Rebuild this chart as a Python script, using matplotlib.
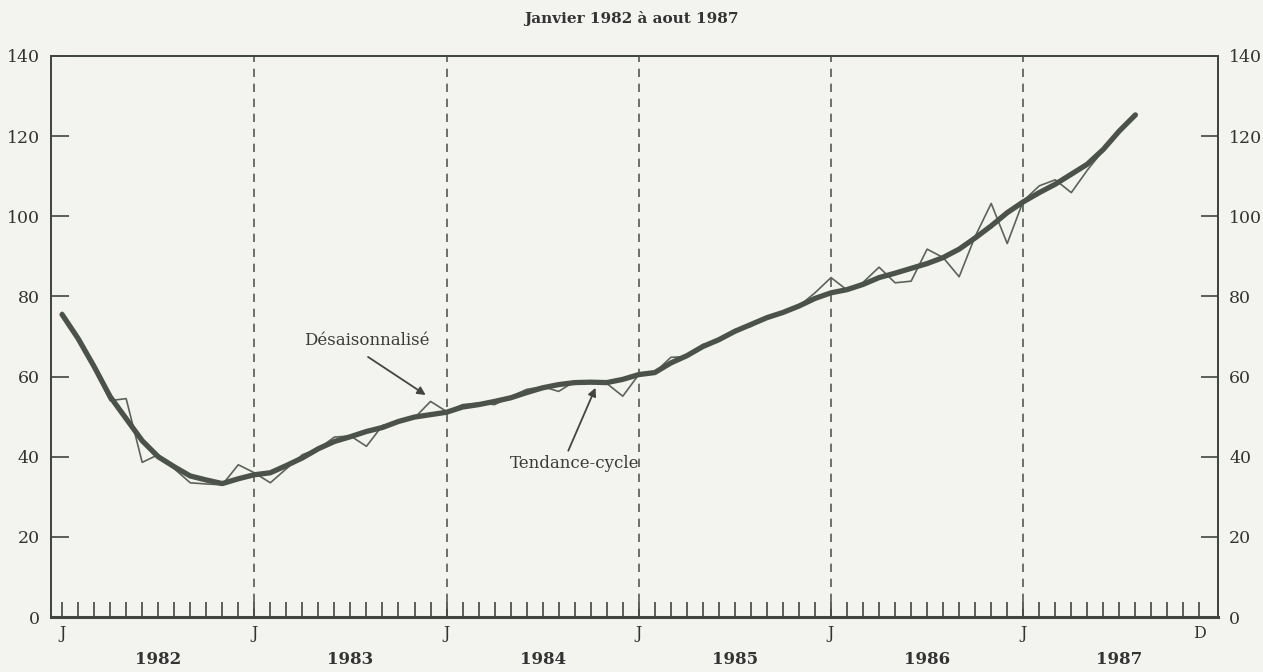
import matplotlib.pyplot as plt
import numpy as np
from matplotlib.transforms import blended_transform_factory

# months since January 1982 (0 = Jan 1982, 67 = Aug 1987)
tendance = [75.5, 69.5, 62.5, 55.0, 49.5, 44.0, 40.0, 37.5, 35.2, 34.2, 33.3, 34.5,
            35.5, 36.0, 37.8, 39.7, 42.0, 43.8, 45.0, 46.3, 47.3, 48.8, 49.9, 50.5,
            51.1, 52.4, 53.0, 53.8, 54.7, 56.0, 57.2, 58.0, 58.5, 58.6, 58.5, 59.3,
            60.5, 61.0, 63.4, 65.2, 67.5, 69.2, 71.3, 73.0, 74.7, 76.0, 77.6, 79.5,
            80.9, 81.7, 83.0, 84.7, 85.8, 87.0, 88.2, 89.7, 91.8, 94.6, 97.6, 100.9,
            103.6, 105.9, 108.0, 110.5, 113.0, 116.7, 121.3, 125.3]
desaison = [76.0, 69.0, 62.0, 54.0, 54.5, 38.6, 40.5, 37.0, 33.5, 33.2, 33.0, 38.0,
            36.0, 33.5, 37.0, 40.5, 42.0, 44.9, 45.2, 42.6, 47.8, 48.8, 49.7, 53.8,
            51.3, 53.0, 53.4, 53.0, 55.0, 56.8, 57.5, 56.3, 58.8, 58.8, 58.3, 55.1,
            60.5, 61.0, 64.8, 65.0, 68.0, 69.0, 71.7, 72.5, 75.0, 76.0, 77.6, 80.9,
            84.7, 81.6, 83.5, 87.3, 83.4, 83.8, 91.8, 89.7, 84.9, 95.0, 103.2, 93.2,
            103.8, 107.6, 109.1, 105.9, 111.5, 116.5, 121.3, 125.3]
years = ["1982", "1983", "1984", "1985", "1986", "1987"]
month_labels = ["J", "J", "J", "J", "J", "J", "D"]
yticks = [0, 20, 40, 60, 80, 100, 120, 140]

months = np.arange(len(tendance))
jan_pos = [12 * i for i in range(len(years))]
label_pos = jan_pos + [12 * len(years) - 1]

ink = "#3f463f"
bg = "#f3f3ef"
plt.rcParams["font.family"] = ["DejaVu Serif"]

fig = plt.figure(figsize=(12.63, 6.72), dpi=100, facecolor=bg)
ax = fig.add_axes([0.0404, 0.0818, 0.924, 0.8349], facecolor=bg)

for j in jan_pos[1:]:
    ax.axvline(j, color="#555a55", lw=1.2, ls=(0, (5, 4)), zorder=1)

ax.plot(months, desaison, color="#5b645a", lw=1.2, zorder=2)
ax.plot(months, tendance, color="#4a5249", lw=3.8, solid_capstyle="round",
        solid_joinstyle="round", zorder=3)

ax.set_xlim(-0.69, 72.16)
ax.set_ylim(0, 140)

ax.set_yticks(yticks)
ax.tick_params(axis="y", direction="in", length=13, width=1.2, color=ink,
               labelsize=12.5, labelcolor="#333333", pad=8)
ax.set_xticks(label_pos)
ax.set_xticklabels(month_labels)
ax.set_xticks(months.tolist() + [68, 69, 70], minor=True)
ax.tick_params(axis="x", which="both", direction="in", length=11, width=1.2,
               color=ink, labelsize=11.5, labelcolor="#333333", pad=6)

ax2 = ax.twinx()
ax2.set_ylim(0, 140)
ax2.set_yticks(yticks)
ax2.tick_params(axis="y", direction="in", length=12, width=1.2, color=ink,
                labelsize=12.5, labelcolor="#333333", pad=8)

for a in (ax, ax2):
    for s in a.spines.values():
        s.set_color(ink)
        s.set_linewidth(1.3)
ax.spines["bottom"].set_linewidth(2.2)

trans = blended_transform_factory(ax.transData, ax.transAxes)
for i, yr in enumerate(years):
    ax.text(12 * i + 6, -0.075, yr, transform=trans, ha="center", va="center",
            fontsize=12, fontweight="bold", color="#333333")

# labels and their pointer arrows
ax.text(19.0, 69.0, "Désaisonnalisé", ha="center", va="center",
        fontsize=12, color="#3a3a3a")
ax.annotate("", xy=(22.7, 55.4), xytext=(19.1, 64.9),
            arrowprops=dict(arrowstyle="-|>", color="#444444", lw=1.3,
                            shrinkA=0, shrinkB=0, mutation_scale=12))
ax.text(32.0, 38.3, "Tendance-cycle", ha="center", va="center",
        fontsize=12, color="#3a3a3a")
ax.annotate("", xy=(33.3, 57.2), xytext=(31.6, 41.5),
            arrowprops=dict(arrowstyle="-|>", color="#444444", lw=1.3,
                            shrinkA=0, shrinkB=0, mutation_scale=12))

fig.text(0.5, 0.972, "Janvier 1982 à aout 1987", ha="center", va="center",
         fontsize=11, fontweight="bold", color="#333333")

fig.savefig("out.png", dpi=100, facecolor=bg)
